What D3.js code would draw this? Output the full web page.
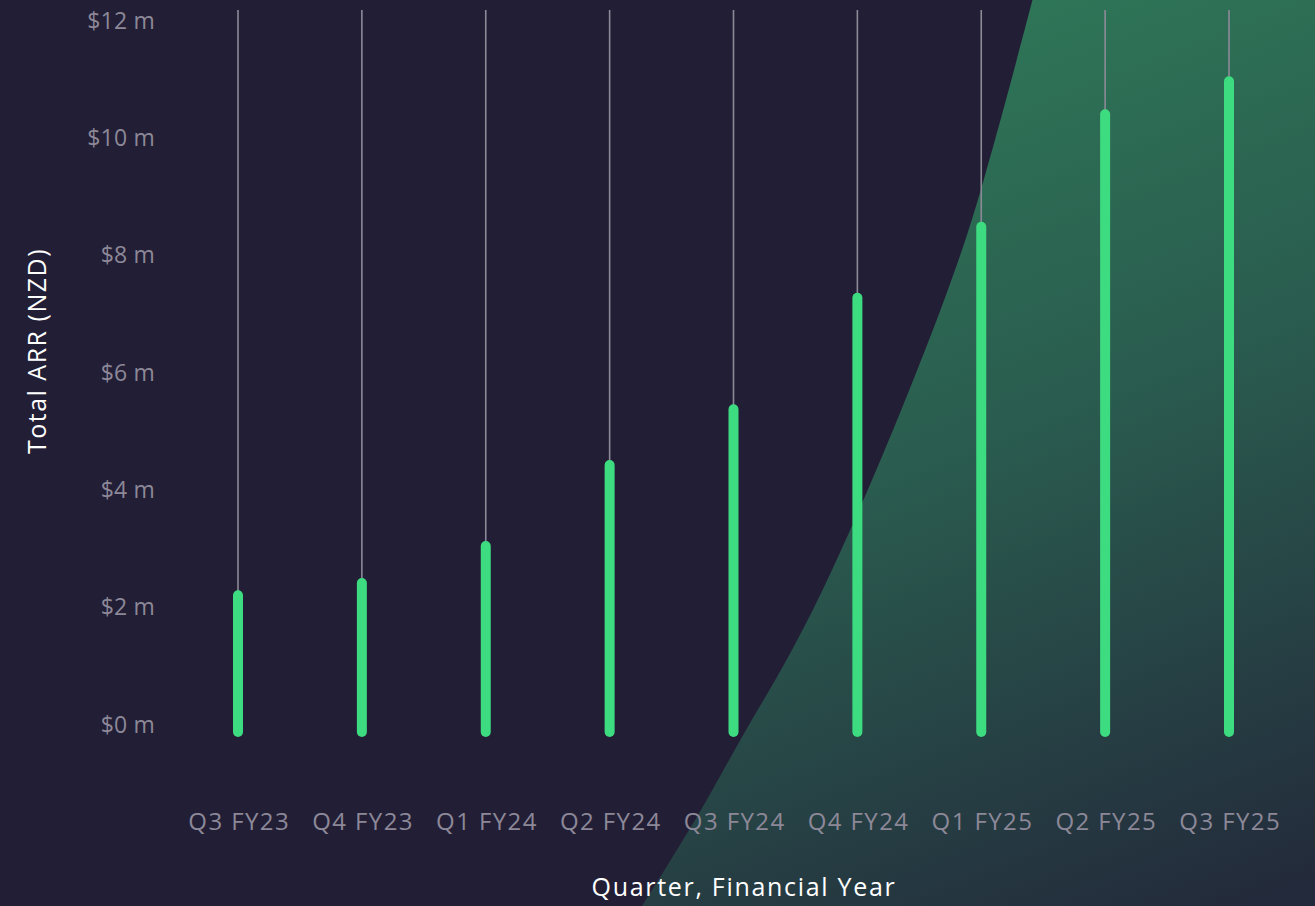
<!DOCTYPE html>
<html><head><meta charset="utf-8">
<script src="https://cdn.jsdelivr.net/npm/d3@7"></script>
<style>
html,body{margin:0;padding:0;background:#221e35;overflow:hidden}
svg{display:block}
text{font-family:"Open Sans","Noto Sans",sans-serif}
</style></head>
<body>
<svg id="c" width="1315" height="906"></svg>
<script>
const categories = ["Q3 FY23","Q4 FY23","Q1 FY24","Q2 FY24","Q3 FY24","Q4 FY24","Q1 FY25","Q2 FY25","Q3 FY25"];
const arrValues = [2.28, 2.49, 3.12, 4.50, 5.45, 7.35, 8.56, 10.48, 11.04]; // $ millions NZD
const yTicks = [0, 2, 4, 6, 8, 10, 12];
const yTickLabels = ["$0 m","$2 m","$4 m","$6 m","$8 m","$10 m","$12 m"];
const xTitle = "Quarter, Financial Year";
const yTitle = "Total ARR (NZD)";

const W = 1315, H = 906;
const FONT = "'Open Sans', 'Noto Sans', sans-serif";
const svg = d3.select("#c");

// background
svg.append("rect").attr("width", W).attr("height", H).attr("fill", "#221e35");

// decorative green curved region
const defs = svg.append("defs");
const g1 = defs.append("linearGradient").attr("id","gr")
  .attr("gradientUnits","userSpaceOnUse")
  .attr("x1",900).attr("y1",0).attr("x2",1250).attr("y2",906);
g1.append("stop").attr("offset",0).attr("stop-color","#2f7858");
g1.append("stop").attr("offset",0.45).attr("stop-color","#2a5c4f");
g1.append("stop").attr("offset",1).attr("stop-color","#232a3b");
const edge = [[1033,-2],[995,140],[962,250],[900,413],[832,570],[792,650],[742,737],[698,815],[642,906],[636,915]];
const edgeLine = d3.line().curve(d3.curveCatmullRom.alpha(0.5))(edge);
svg.append("path")
  .attr("d", edgeLine + "L1320,915L1320,-2Z")
  .attr("fill","url(#gr)");

// scales
const x = d3.scalePoint().domain(categories).range([238, 1229]);
const y = d3.scaleLinear().domain([0, 12]).range([724, 20]);

// y axis labels
const yAxis = d3.axisLeft(y).tickValues(yTicks)
  .tickFormat((d,i) => yTickLabels[i]).tickSize(0).tickPadding(0);
const ya = svg.append("g").attr("transform","translate(155,0)").call(yAxis);
ya.select(".domain").remove();
ya.selectAll("text").attr("fill","#8c8898").attr("font-size",23).attr("dy","0.36em")
  .attr("letter-spacing","0.2px")
  .style("font-family", FONT);

// x axis labels
const xAxis = d3.axisBottom(x).tickSize(0).tickPadding(0);
const xa = svg.append("g").attr("transform","translate(0,816)").call(xAxis);
xa.select(".domain").remove();
xa.selectAll("text").attr("fill","#8c8898").attr("font-size",24).attr("dy","0.6em")
  .attr("dx","0.7px").attr("letter-spacing","1.4px")
  .style("font-family", FONT);

// grey stems
svg.append("g").selectAll("line").data(categories).join("line")
  .attr("x1", d => x(d)).attr("x2", d => x(d))
  .attr("y1", y(12) - 10).attr("y2", (d,i) => y(arrValues[i]) + 6)
  .attr("stroke","#8d8a98").attr("stroke-width",1.6);

// green bars (rounded lines)
svg.append("g").selectAll("line").data(arrValues).join("line")
  .attr("x1",(d,i) => x(categories[i])).attr("x2",(d,i) => x(categories[i]))
  .attr("y1", y(0) + 8).attr("y2", d => y(d) + 5)
  .attr("stroke","#3ddc80").attr("stroke-width",10).attr("stroke-linecap","round");

// axis titles
svg.append("text").attr("x", 744).attr("y", 887).attr("dy","0.36em")
  .attr("text-anchor","middle").attr("fill","#ffffff").attr("font-size",25)
  .attr("letter-spacing","1.7px")
  .style("font-family", FONT).text(xTitle);
svg.append("text").attr("transform","translate(37,351) rotate(-90)").attr("dy","0.36em")
  .attr("text-anchor","middle").attr("fill","#ffffff").attr("font-size",25)
  .attr("letter-spacing","1.5px")
  .style("font-family", FONT).text(yTitle);
</script>
</body></html>
